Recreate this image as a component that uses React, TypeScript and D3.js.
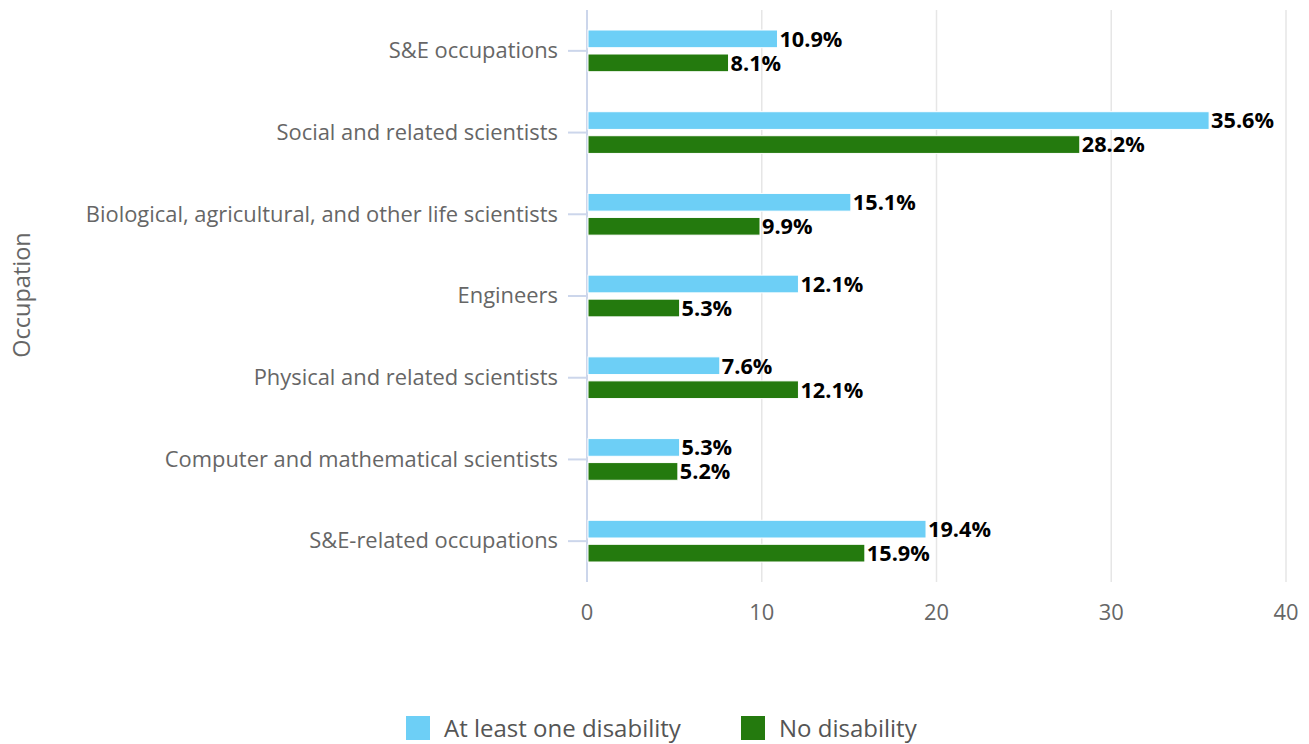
import React from "react";
import * as d3 from "d3";

const categories = [
  "S&E occupations",
  "Social and related scientists",
  "Biological, agricultural, and other life scientists",
  "Engineers",
  "Physical and related scientists",
  "Computer and mathematical scientists",
  "S&E-related occupations",
];
const atLeastOne = [10.9, 35.6, 15.1, 12.1, 7.6, 5.3, 19.4];
const noDisability = [8.1, 28.2, 9.9, 5.3, 12.1, 5.2, 15.9];
const seriesNames = ["At least one disability", "No disability"];
const seriesColors = ["#6DCFF6", "#247A0E"];
const xTicks = [0, 10, 20, 30, 40];

const W = 1309;
const H = 744;
const FONT = "'Open Sans', 'Noto Sans', sans-serif";

export default function App() {
  const x = d3.scaleLinear().domain([0, 40]).range([587, 1286]);
  const y = d3.scaleBand<string>().domain(categories).range([10, 582]);
  const inner = d3
    .scaleBand<string>()
    .domain(seriesNames)
    .range([20, y.bandwidth() - 20])
    .paddingInner(0.2625);
  const series = [atLeastOne, noDisability];

  return (
    <svg width={W} height={H} style={{ position: "absolute", left: 0, top: 0, fontFamily: FONT }}>
      <rect width={W} height={H} fill="#fff" />
      {xTicks.slice(1).map((t) => (
        <line key={t} x1={x(t)} x2={x(t)} y1={10} y2={582} stroke="#e6e6e6" strokeWidth={1.5} />
      ))}
      <line x1={587} x2={587} y1={10} y2={582} stroke="#ccd6eb" strokeWidth={2} />
      {categories.map((c) => {
        const cy = (y(c) as number) + y.bandwidth() / 2;
        return (
          <g key={c}>
            <line x1={568} x2={587} y1={cy} y2={cy} stroke="#ccd6eb" strokeWidth={2} />
            <text x={558} y={cy} dy="0.33em" textAnchor="end" fontSize={21.9} fill="#666">
              {c}
            </text>
          </g>
        );
      })}
      {xTicks.map((t) => (
        <text key={t} x={x(t)} y={620} textAnchor="middle" fontSize={21.9} fill="#666">
          {t}
        </text>
      ))}
      <text
        transform="translate(30,295) rotate(-90)"
        textAnchor="middle"
        fontSize={23.5}
        fill="#666"
      >
        Occupation
      </text>
      {series.map((vals, si) =>
        categories.map((c, i) => {
          const by = (y(c) as number) + (inner(seriesNames[si]) as number);
          const bh = inner.bandwidth();
          return (
            <g key={c + si}>
              <rect
                x={x(0) + 1}
                y={by}
                width={x(vals[i]) - x(0) - 1}
                height={bh}
                fill={seriesColors[si]}
                stroke="#fff"
                strokeWidth={1}
              />
              <text
                x={x(vals[i]) + 2}
                y={by + bh / 2}
                dy="0.36em"
                fontSize={21.7}
                fontWeight="bold"
                fill="#000"
              >
                {vals[i].toFixed(1) + "%"}
              </text>
            </g>
          );
        })
      )}
      {seriesNames.map((s, i) => {
        const lx = i === 0 ? 406 : 741;
        return (
          <g key={s}>
            <rect x={lx} y={716} width={24} height={24} fill={seriesColors[i]} />
            <text x={lx + 38} y={728} dy="0.36em" fontSize={24} fill="#555">
              {s}
            </text>
          </g>
        );
      })}
    </svg>
  );
}
